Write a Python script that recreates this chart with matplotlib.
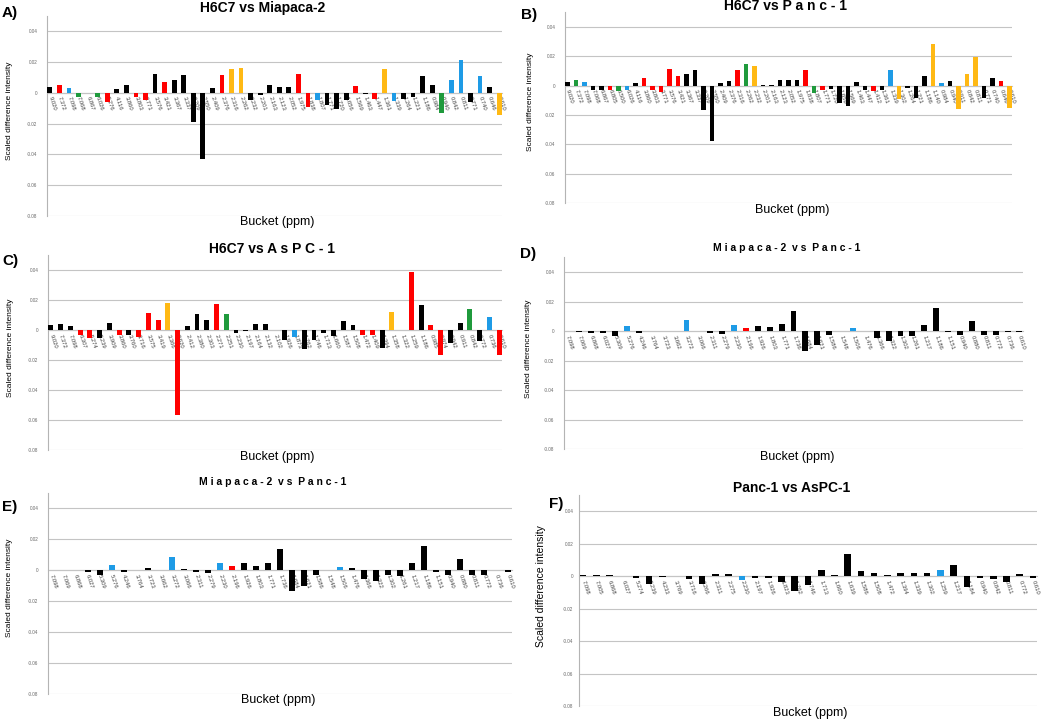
import matplotlib
matplotlib.use('Agg')
import matplotlib.pyplot as plt

plt.rcParams['font.family'] = ['Liberation Sans', 'DejaVu Sans']

# ---- data ----------------------------------------------------------------
labels_a = ['9.020', '7.372', '7.098', '7.068', '6.867', '6.026', '5.276', '4.116', '3.860', '3.803',
            '3.771', '3.576', '3.421', '3.367', '3.337', '3.209', '2.550', '2.409', '2.376', '2.316',
            '2.262', '2.232', '2.201', '2.163', '2.123', '2.052', '1.975', '1.838', '1.807', '1.771',
            '1.720', '1.656', '1.569', '1.463', '1.447', '1.361', '1.339', '1.264', '1.221', '1.186',
            '0.984', '0.940', '0.842', '0.811', '0.771', '0.740', '0.646', '0.610']
values_a = [0.0035, 0.005, 0.003, -0.0025, 0.0, -0.0025, -0.006, 0.0023, 0.005, -0.003,
            -0.0045, 0.012, 0.007, 0.0085, 0.0115, -0.019, -0.043, 0.003, 0.0115, 0.0155,
            0.0163, -0.0045, -0.0017, 0.005, 0.004, 0.004, 0.012, -0.009, -0.0047, -0.0078,
            -0.0105, -0.0045, 0.0045, -0.001, -0.004, 0.0155, -0.0055, -0.004, -0.0025, 0.011,
            0.0047, -0.013, 0.0085, 0.021, -0.006, 0.0105, 0.0035, -0.0145]
classes_a = ['k', 'r', 'b', 'g', 'k', 'g', 'r', 'k', 'k', 'r',
             'r', 'k', 'r', 'k', 'k', 'k', 'k', 'k', 'r', 'o',
             'o', 'k', 'k', 'k', 'k', 'k', 'r', 'r', 'b', 'k',
             'k', 'k', 'r', 'k', 'r', 'o', 'b', 'k', 'k', 'k',
             'k', 'g', 'b', 'b', 'k', 'b', 'k', 'o']

labels_b = ['9.020', '7.372', '7.098', '7.068', '6.867', '6.805', '6.500', '6.026', '4.116', '3.860',
            '3.803', '3.771', '3.576', '3.421', '3.367', '3.337', '3.209', '2.550', '2.409', '2.376',
            '2.316', '2.262', '2.232', '2.201', '2.163', '2.123', '2.052', '1.975', '1.838', '1.807',
            '1.771', '1.720', '1.656', '1.569', '1.463', '1.447', '1.412', '1.361', '1.339', '1.302',
            '1.264', '1.221', '1.186', '1.140', '0.984', '0.940', '0.911', '0.842', '0.811', '0.771',
            '0.740', '0.646', '0.610']
values_b = [0.0027, 0.0039, 0.0023, -0.003, -0.003, -0.003, -0.0035, -0.003, 0.0015, 0.005,
            -0.003, -0.004, 0.0114, 0.0065, 0.008, 0.011, -0.0166, -0.0375, 0.002, 0.003,
            0.011, 0.0148, 0.0136, 0.0002, 0.0002, 0.004, 0.004, 0.004, 0.011, -0.005,
            -0.003, -0.0025, -0.012, -0.014, 0.0025, -0.003, -0.0035, -0.003, 0.0105, -0.0093,
            -0.0015, -0.0085, 0.0065, 0.0284, 0.002, 0.0035, -0.0157, 0.008, 0.0193, -0.0085,
            0.005, 0.0035, -0.0155]
classes_b = ['k', 'g', 'b', 'k', 'k', 'r', 'g', 'b', 'k', 'r',
             'r', 'r', 'r', 'r', 'k', 'k', 'k', 'k', 'k', 'k',
             'r', 'g', 'o', 'k', 'k', 'k', 'k', 'k', 'r', 'g',
             'r', 'k', 'k', 'k', 'k', 'k', 'r', 'k', 'b', 'o',
             'k', 'k', 'k', 'o', 'b', 'k', 'o', 'o', 'o', 'k',
             'k', 'r', 'o']

labels_c = ['9.020', '7.372', '7.098', '6.307', '5.274', '5.239', '3.909', '3.860', '3.760', '3.716',
            '3.575', '3.419', '3.366', '2.620', '2.412', '2.380', '2.303', '2.271', '2.251', '2.230',
            '2.197', '2.164', '2.132', '2.102', '1.926', '1.873', '1.762', '1.746', '1.713', '1.660',
            '1.587', '1.508', '1.472', '1.409', '1.394', '1.358', '1.322', '1.259', '1.186', '0.985',
            '0.974', '0.942', '0.911', '0.842', '0.772', '0.736', '0.610']
values_c = [0.0031, 0.004, 0.0027, -0.0035, -0.005, -0.005, 0.0045, -0.0033, -0.0033, -0.0045,
            0.0113, 0.0065, 0.0182, -0.0569, 0.0028, 0.0105, 0.0065, 0.0175, 0.011, -0.002,
            -0.0005, 0.004, 0.004, 0.0, -0.0065, -0.0045, -0.0125, -0.0065, -0.0018, -0.0038,
            0.006, 0.0035, -0.003, -0.003, -0.012, 0.0122, 0.0, 0.039, 0.017, 0.0035,
            -0.0165, -0.0085, 0.005, 0.014, -0.0075, 0.0085, -0.0165]
classes_c = ['k', 'k', 'k', 'r', 'r', 'k', 'k', 'r', 'k', 'r',
             'r', 'r', 'o', 'r', 'k', 'k', 'k', 'r', 'g', 'k',
             'k', 'k', 'k', 'k', 'k', 'b', 'k', 'k', 'k', 'k',
             'k', 'k', 'r', 'r', 'k', 'o', 'k', 'r', 'k', 'r',
             'r', 'k', 'k', 'g', 'k', 'b', 'r']

labels_d = ['7.098', '7.069', '6.868', '6.027', '5.309', '5.276', '4.246', '3.764', '3.723', '3.662',
            '3.272', '3.066', '2.311', '2.279', '2.230', '2.196', '1.926', '1.803', '1.771', '1.736',
            '1.684', '1.621', '1.586', '1.548', '1.506', '1.476', '1.366', '1.322', '1.302', '1.261',
            '1.217', '1.186', '1.151', '0.940', '0.880', '0.811', '0.772', '0.736', '0.610']
values_d = [0.0, -0.0005, -0.001, -0.0012, -0.0035, 0.0031, -0.0012, 0.0, 0.0, 0.0,
            0.0076, 0.0, -0.0012, -0.002, 0.004, 0.002, 0.0035, 0.0027, 0.0045, 0.0135,
            -0.0135, -0.0098, -0.003, 0.0, 0.0018, 0.0, -0.005, -0.007, -0.0035, -0.0035,
            0.004, 0.0158, -0.0005, -0.003, 0.0065, -0.003, -0.0025, -0.0005, -0.0005]
classes_d = ['k', 'k', 'k', 'k', 'k', 'b', 'k', 'k', 'k', 'k',
             'b', 'k', 'k', 'k', 'b', 'r', 'k', 'k', 'k', 'k',
             'k', 'k', 'k', 'k', 'b', 'k', 'k', 'k', 'k', 'k',
             'k', 'k', 'k', 'k', 'k', 'k', 'k', 'k', 'k']

labels_e = labels_d
values_e = [-0.0003, -0.0003, -0.0003, -0.0012, -0.0035, 0.003, -0.0012, 0.0003, 0.001, -0.0003,
            0.0083, 0.0005, -0.0012, -0.0018, 0.0045, 0.0025, 0.0042, 0.0025, 0.0047, 0.0135,
            -0.0135, -0.01, -0.003, -0.0003, 0.0017, 0.001, -0.0055, -0.007, -0.0035, -0.0038,
            0.0045, 0.0155, -0.001, -0.0035, 0.0068, -0.0035, -0.003, 0.0003, -0.0015]
classes_e = classes_d

labels_f = ['7.098', '7.005', '6.868', '6.027', '5.274', '5.239', '4.233', '3.769', '3.716', '3.266',
            '2.311', '2.275', '2.230', '2.197', '1.926', '1.823', '1.762', '1.746', '1.713', '1.660',
            '1.639', '1.586', '1.508', '1.472', '1.394', '1.339', '1.302', '1.259', '1.217', '1.184',
            '0.940', '0.842', '0.811', '0.772', '0.610']
values_f = [0.0005, 0.0008, 0.0008, 0.0, -0.001, -0.0046, -0.0008, 0.0, -0.002, -0.005,
            0.001, 0.0012, -0.0025, -0.0012, -0.0015, -0.0035, -0.0092, -0.0055, 0.0038, 0.0008,
            0.0135, 0.0028, 0.002, 0.0008, 0.002, 0.0018, 0.002, 0.0038, 0.0065, -0.007,
            -0.001, -0.002, -0.0035, 0.0012, -0.0012]
classes_f = ['k', 'k', 'k', 'k', 'k', 'k', 'k', 'k', 'k', 'k',
             'k', 'k', 'b', 'k', 'k', 'k', 'k', 'k', 'k', 'k',
             'k', 'k', 'k', 'k', 'k', 'k', 'k', 'b', 'k', 'k',
             'k', 'k', 'k', 'k', 'k']

class_colors = {'k': '#000000', 'r': '#ff0000', 'b': '#1e9be6', 'g': '#1f9a3c', 'o': '#ffb914'}
yticks = [0.04, 0.02, 0, -0.02, -0.04, -0.06, -0.08]
ytick_labels = ['0.04', '0.02', '0', '-0.02', '-0.04', '-0.06', '-0.08']

W, H = 1050, 720
fig = plt.figure(figsize=(10.5, 7.2), dpi=100)


def fx(x):
    return x / W


def fy(y):
    return 1 - y / H


def panel(rect, labels, values, classes, title, tsize, tpos, letter, lpos,
          ypos, ysize, xpos, xsize, ypad=7):
    left, top, right, bottom = rect
    ax = fig.add_axes([fx(left), fy(bottom), (right - left) / W, (bottom - top) / H])
    n = len(values)
    ax.bar(range(n), values, width=0.5, color=[class_colors[c] for c in classes],
           linewidth=0, zorder=3)
    ax.set_xlim(-0.3, n - 0.7)
    ax.set_ylim(-0.08, 0.05)

    ax.set_axisbelow(True)
    ax.set_yticks(yticks)
    ax.set_yticklabels(ytick_labels, fontsize=3.3, color='#666666')
    ax.yaxis.grid(True, color='#c4c4c4', linewidth=0.8)
    ax.tick_params(axis='y', length=0, pad=ypad)

    ax.spines['bottom'].set_position(('data', 0))
    ax.spines['bottom'].set_color('#c4c4c4')
    ax.spines['bottom'].set_linewidth(0.8)
    ax.spines['bottom'].set_zorder(0.5)
    ax.spines['left'].set_color('#b4b4b4')
    ax.spines['left'].set_linewidth(0.8)
    ax.spines['top'].set_visible(False)
    ax.spines['right'].set_visible(False)

    ax.set_xticks(range(n))
    ax.set_xticklabels(labels, rotation=-72, ha='left', va='center',
                       rotation_mode='anchor', fontsize=4.2, color='#444444')
    ax.tick_params(axis='x', length=0, pad=3)

    fig.text(fx(tpos[0]), fy(tpos[1]), title, ha='center', va='center',
             fontsize=tsize, fontweight='bold')
    fig.text(fx(lpos[0]), fy(lpos[1]), letter, ha='left', va='center',
             fontsize=11, fontweight='bold')
    fig.text(fx(ypos[0]), fy(ypos[1]), 'Scaled difference intensity', ha='center',
             va='center', rotation=90, fontsize=ysize)
    fig.text(fx(xpos[0]), fy(xpos[1]), 'Bucket (ppm)', ha='center', va='center',
             fontsize=xsize)
    return ax


panel((47, 15.6, 502, 216), labels_a, values_a, classes_a,
      'H6C7 vs Miapaca-2', 10, (263, 8), 'A)', (2, 13), (10, 111), 6, (277, 222), 9)
panel((565, 12.3, 1012, 203), labels_b, values_b, classes_b,
      'H6C7 vs P a n c - 1', 10, (785, 6), 'B)', (521, 15), (530, 102), 6, (792, 210), 9)
panel((48, 255, 502, 450), labels_c, values_c, classes_c,
      'H6C7 vs A s P C - 1', 10, (272, 249), 'C)', (2, 261), (11, 348), 6, (277, 457), 9)
panel((564, 257.3, 1023, 449), labels_d, values_d, classes_d,
      'M i a p a c a - 2  v s  P a n c - 1', 7.5, (787, 248), 'D)', (520, 254),
      (528, 349), 6, (797, 457), 9)
panel((48, 492.5, 512, 694), labels_e, values_e, classes_e,
      'M i a p a c a - 2  v s  P a n c - 1', 7.5, (273, 482), 'E)', (2, 507),
      (10, 588), 6, (278, 700), 9)
panel((579, 494.8, 1037, 706), labels_f, values_f, classes_f,
      'Panc-1 vs AsPC-1', 10, (792, 488), 'F)', (549, 504), (541, 586), 7.5, (810, 713), 9,
      ypad=4)

fig.savefig('out.png', dpi=100, facecolor='white')
